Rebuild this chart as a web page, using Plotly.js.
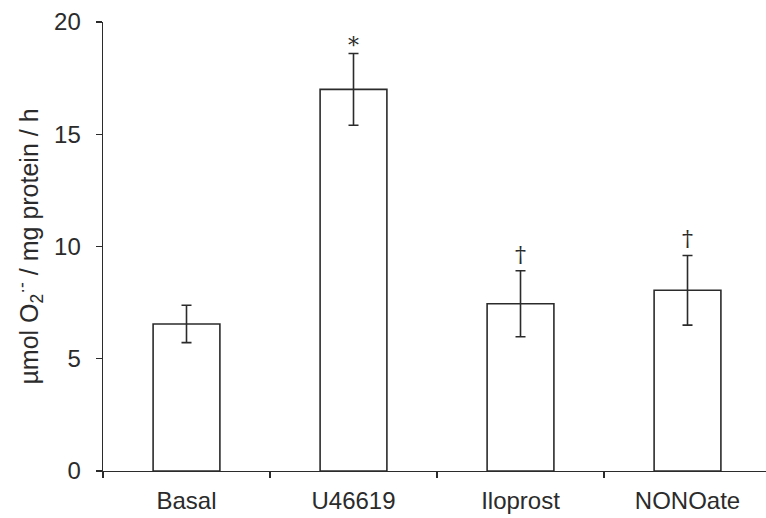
<!DOCTYPE html>
<html>
<head>
<meta charset="utf-8">
<script src="https://cdn.plot.ly/plotly-3.0.1.min.js"></script>
<style>html,body{margin:0;padding:0;background:#fff;}#chart{width:766px;height:518px;}</style>
</head>
<body>
<div id="chart"></div>
<script>
const categories = ["Basal", "U46619", "Iloprost", "NONOate"];
const values = [6.55, 17.0, 7.45, 8.05];
const errors = [0.83, 1.6, 1.47, 1.55];
const marks = ["", "*", "\u2020", "\u2020"];
const yTicks = [0, 5, 10, 15, 20];

const ink = "#2b2b2b";
const markShift = { "*": -7, "\u2020": 2 };

const trace = {
  type: "bar",
  x: categories,
  y: values,
  width: 0.4,
  marker: { color: "#ffffff", line: { color: ink, width: 1.6 } },
  error_y: { type: "data", array: errors, visible: true, color: ink, thickness: 1.6, width: 5 },
  hoverinfo: "skip"
};

const annotations = categories.map((c, i) => ({
  x: c, y: values[i] + errors[i], xref: "x", yref: "y",
  text: marks[i], showarrow: false, yanchor: "bottom", yshift: markShift[marks[i]] || 0,
  font: { family: "DejaVu Serif, serif", size: 22, color: ink }
})).filter(a => a.text !== "");

const layout = {
  width: 766, height: 518,
  margin: { l: 103, r: 0, t: 22, b: 47, pad: 0 },
  paper_bgcolor: "#fff", plot_bgcolor: "#fff",
  showlegend: false,
  font: { family: "Liberation Sans, Arial, sans-serif", size: 24, color: ink },
  xaxis: {
    type: "category",
    range: [-0.5, 3.47],
    tickson: "boundaries",
    ticks: "outside", ticklen: 6, tickwidth: 1.4, tickcolor: ink,
    showline: true, linecolor: ink, linewidth: 1.4,
    showgrid: false, zeroline: false,
    tickfont: { size: 24, color: ink },
    ticklabelstandoff: 8,
    automargin: false,
    fixedrange: true
  },
  yaxis: {
    range: [0, 20],
    tickmode: "array", tickvals: yTicks, ticktext: yTicks.map(String),
    ticks: "outside", ticklen: 6, tickwidth: 1.4, tickcolor: ink,
    showline: true, linecolor: ink, linewidth: 1.4,
    showgrid: false, zeroline: false,
    tickfont: { size: 24, color: ink },
    ticklabelstandoff: 10,
    title: { text: "\u00b5mol O<sub>2</sub><sup>\u00b7-</sup> / mg protein / h", font: { size: 25, color: ink }, standoff: 8 },
    automargin: false,
    fixedrange: true
  },
  annotations: annotations
};

Plotly.newPlot("chart", [trace], layout, { displayModeBar: false, staticPlot: true });
</script>
</body>
</html>
